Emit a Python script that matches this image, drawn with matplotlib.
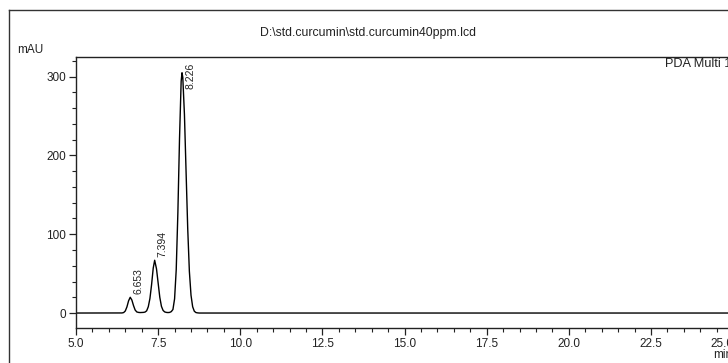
import matplotlib
matplotlib.use("Agg")
import matplotlib.pyplot as plt
from matplotlib.lines import Line2D
from matplotlib.ticker import MultipleLocator

plt.rcParams['font.family'] = ['Liberation Sans', 'DejaVu Sans']

# Chromatogram trace (time in min, absorbance in mAU)
time_min = [5.00, 6.40, 6.45, 6.50, 6.55, 6.60, 6.65, 6.70, 6.75, 6.80, 6.85, 6.90, 6.95, 7.00,
            7.05, 7.10, 7.15, 7.20, 7.25, 7.30, 7.35, 7.394, 7.45, 7.50, 7.55, 7.60, 7.65, 7.70,
            7.75, 7.80, 7.85, 7.90, 7.95, 8.00, 8.05, 8.10, 8.15, 8.20, 8.226, 8.25, 8.30, 8.35,
            8.40, 8.45, 8.50, 8.55, 8.60, 8.65, 8.70, 8.75, 27.00]
signal_mau = [0.0, 0.1, 0.6, 2.6, 7.8, 15.5, 20.0, 16.5, 9.5, 3.8, 1.4, 0.8, 0.6, 0.7,
              0.8, 1.2, 2.8, 8.0, 18.5, 36.0, 57.0, 67.0, 56.0, 38.0, 20.0, 8.5, 3.3, 1.4,
              0.8, 0.6, 0.8, 1.8, 4.5, 18.0, 55.0, 127.0, 221.0, 294.0, 305.0, 299.0, 252.0, 179.0,
              107.0, 53.0, 22.6, 8.0, 2.3, 0.6, 0.2, 0.0, 0.0]

peak_rt = [6.653, 7.394, 8.226]
peak_height = [20.0, 67.0, 305.0]
peak_labels = ["6.653", "7.394", "8.226"]

x_ticks = [5.0, 7.5, 10.0, 12.5, 15.0, 17.5, 20.0, 22.5, 25.0]
y_ticks = [0, 100, 200, 300]

title_text = "D:\\std.curcumin\\std.curcumin40ppm.lcd"
y_unit = "mAU"
x_unit = "min"
detector_text = "PDA Multi 1"

W, H = 728, 363
fig = plt.figure(figsize=(W / 100, H / 100), dpi=100)
fig.patch.set_facecolor('white')

def fx(px):
    return px / W

def fy(py):
    return 1 - py / H

x_lo, x_hi = 5.0, 25.5
y_lo, y_hi = -19.0, 325.0
ax_left_px, ax_top_px, ax_bot_px = 76, 57, 328
px_per_min = 32.86
ax_right_px = ax_left_px + (x_hi - x_lo) * px_per_min

ax = fig.add_axes([fx(ax_left_px), fy(ax_bot_px),
                   fx(ax_right_px) - fx(ax_left_px), fy(ax_top_px) - fy(ax_bot_px)])
ax.plot(time_min, signal_mau, color='black', lw=1.0)
ax.set_xlim(x_lo, x_hi)
ax.set_ylim(y_lo, y_hi)

ax.set_xticks(x_ticks)
ax.set_xticklabels([f"{t:.1f}" for t in x_ticks])
ax.xaxis.set_minor_locator(MultipleLocator(0.5))
ax.set_yticks(y_ticks)
ax.yaxis.set_minor_locator(MultipleLocator(20))
ax.tick_params(axis='both', which='major', direction='out', length=5, width=0.9,
               labelsize=8.5, colors='#222222', pad=2)
ax.tick_params(axis='both', which='minor', direction='out', length=3, width=0.8, colors='#222222')
ax.get_xticklabels()[-1].set_ha('right')
for sp in ax.spines.values():
    sp.set_color('#222222')
    sp.set_linewidth(1.0)

for rt, h, lab in zip(peak_rt, peak_height, peak_labels):
    ybottom = min(h + 4, y_hi - 40)
    ax.annotate(lab, xy=(rt, ybottom), xytext=(8, 0), textcoords='offset pixels',
                rotation=90, ha='center', va='bottom', fontsize=7.5, color='#222222')

# outer frame lines
fig.add_artist(Line2D([fx(9), fx(9)], [fy(10), fy(H + 5)], color='#333333', lw=1.0))
fig.add_artist(Line2D([fx(9), fx(W + 5)], [fy(10), fy(10)], color='#333333', lw=1.0))

fig.text(fx(368), fy(33), title_text, ha='center', va='center', fontsize=8.8, color='#222222')
fig.text(fx(17), fy(50), y_unit, ha='left', va='center', fontsize=8.5, color='#222222')
fig.text(fx(665), fy(64), detector_text, ha='left', va='center', fontsize=9.2, color='#222222')
fig.text(fx(713), fy(355), x_unit, ha='left', va='center', fontsize=8.5, color='#222222')

fig.savefig("out.png", dpi=100)
